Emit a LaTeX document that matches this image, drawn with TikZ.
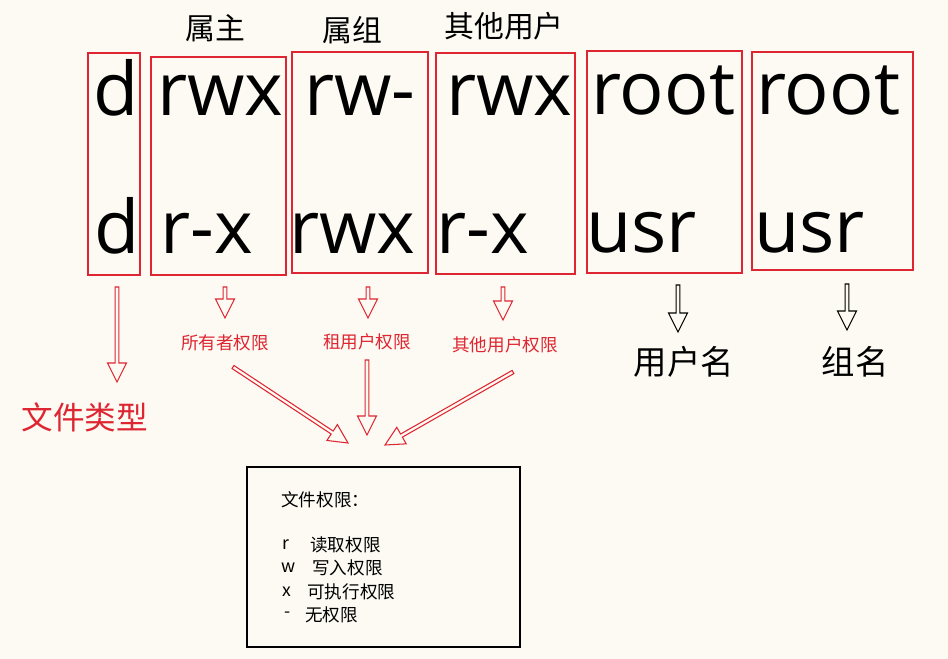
\documentclass[tikz,border=0pt]{standalone}
\usepackage{fontspec}
\setmainfont{Open Sans}
\newfontfamily\cjk{Noto Sans CJK SC}
\usetikzlibrary{calc}

\definecolor{bgcol}{RGB}{252,250,242}
\definecolor{lred}{RGB}{222,38,50}

% hollow block arrow between two named points
\newcommand\hollowarrow[3][lred]{%
  \coordinate (hb) at ($(#3)!0.38cm!(#2)$);
  \draw[#1, line width=0.6pt, fill=bgcol, line join=miter]
    ($(#2)!0.036cm!90:(#3)$) -- ($(hb)!0.036cm!90:(#3)$)
    -- ($(hb)!0.19cm!90:(#3)$) -- (#3) -- ($(hb)!0.19cm!-90:(#3)$)
    -- ($(hb)!0.036cm!-90:(#3)$) -- ($(#2)!0.036cm!-90:(#3)$) -- cycle;
}

\begin{document}
\begin{tikzpicture}[x=0.02cm, y=-0.02cm,
  bigtxt/.style={anchor=base west, inner sep=0pt, font=\fontsize{42}{42}\selectfont},
  hdr/.style={inner sep=0pt, font=\cjk\fontsize{17}{17}\selectfont},
  permlbl/.style={inner sep=0pt, text=lred, font=\cjk\fontsize{10}{10}\selectfont},
  boxtxt/.style={anchor=west, inner sep=0pt, font=\cjk\fontsize{10}{10}\selectfont},
  redbox/.style={draw=lred, line width=1.1pt}]
  % Background
  \fill[bgcol] (0,0) rectangle (948,659);

  % Coordinates
  \coordinate (ftop) at (117,287);
  \coordinate (ftip) at (117,382);
  \coordinate (otop) at (225,287);
  \coordinate (otip) at (225,318);
  \coordinate (gtop) at (368,287);
  \coordinate (gtip) at (368,318);
  \coordinate (xtop) at (503,287);
  \coordinate (xtip) at (503,320);
  \coordinate (utop) at (678,285);
  \coordinate (utip) at (678,332);
  \coordinate (ntop) at (847,284);
  \coordinate (ntip) at (847,330);
  \coordinate (aone) at (233,367);
  \coordinate (aonetip) at (348,443);
  \coordinate (atwo) at (367,360);
  \coordinate (atwotip) at (367,435);
  \coordinate (athree) at (513,372);
  \coordinate (athreetip) at (385,445);

  % Headers
  \node[hdr] (owner) at (215,28) {属主};
  \node[hdr] (group) at (352,30) {属组};
  \node[hdr] (other) at (504,26) {其他用户};

  % Boxes
  \draw[redbox] (88,53) rectangle (140,275);
  \draw[redbox] (151,57) rectangle (286,275);
  \draw[redbox] (292,52) rectangle (428,273);
  \draw[redbox] (436,53) rectangle (575,274);
  \draw[redbox] (587,51) rectangle (742,273);
  \draw[redbox] (752,52) rectangle (913,270);

  % Permission strings
  \node[bigtxt] (dA) at (93,115) {d};
  \node[bigtxt] (dB) at (94,253) {d};
  \node[bigtxt] (oA) at (157,115) {rwx};
  \node[bigtxt] (oB) at (160,253) {r-x};
  \node[bigtxt] (gA) at (304,115) {rw-};
  \node[bigtxt] (gB) at (289,253) {rwx};
  \node[bigtxt] (xA) at (446,115) {rwx};
  \node[bigtxt] (xB) at (436,253) {r-x};
  \node[bigtxt] (uA) at (591,114) {root};
  \node[bigtxt] (uB) at (586,252) {usr};
  \node[bigtxt] (nA) at (756,114) {root};
  \node[bigtxt] (nB) at (754,252) {usr};

  % Labels
  \node[inner sep=0pt, text=lred, font=\cjk\fontsize{18}{18}\selectfont] (ftype) at (85,417) {文件类型};
  \node[permlbl] (operm) at (225,343) {所有者权限};
  \node[permlbl] (gperm) at (367,342) {租用户权限};
  \node[permlbl] (xperm) at (505,345) {其他用户权限};
  \node[inner sep=0pt, font=\cjk\fontsize{19}{19}\selectfont] (uname) at (684,362) {用户名};
  \node[inner sep=0pt, font=\cjk\fontsize{19}{19}\selectfont] (gname) at (855,362) {组名};

  % Arrows
  \hollowarrow{ftop}{ftip}
  \hollowarrow{otop}{otip}
  \hollowarrow{gtop}{gtip}
  \hollowarrow{xtop}{xtip}
  \hollowarrow[black]{utop}{utip}
  \hollowarrow[black]{ntop}{ntip}
  \hollowarrow{aone}{aonetip}
  \hollowarrow{atwo}{atwotip}
  \hollowarrow{athree}{athreetip}

  % Legend box
  \draw[line width=1.7pt] (247,467) rectangle (520,647);
  \node[boxtxt] (ltitle) at (281,500) {文件权限：};
  \node[boxtxt] (lr) at (282,545) {r};
  \node[boxtxt] (dr) at (310,545) {读取权限};
  \node[boxtxt] (lw) at (281,568) {w};
  \node[boxtxt] (dw) at (312,568) {写入权限};
  \node[boxtxt] (lx) at (282,592) {x};
  \node[boxtxt] (dx) at (307,592) {可执行权限};
  \node[boxtxt] (ln) at (284,615) {-};
  \node[boxtxt] (dn) at (305,615) {无权限};
\end{tikzpicture}
\end{document}
